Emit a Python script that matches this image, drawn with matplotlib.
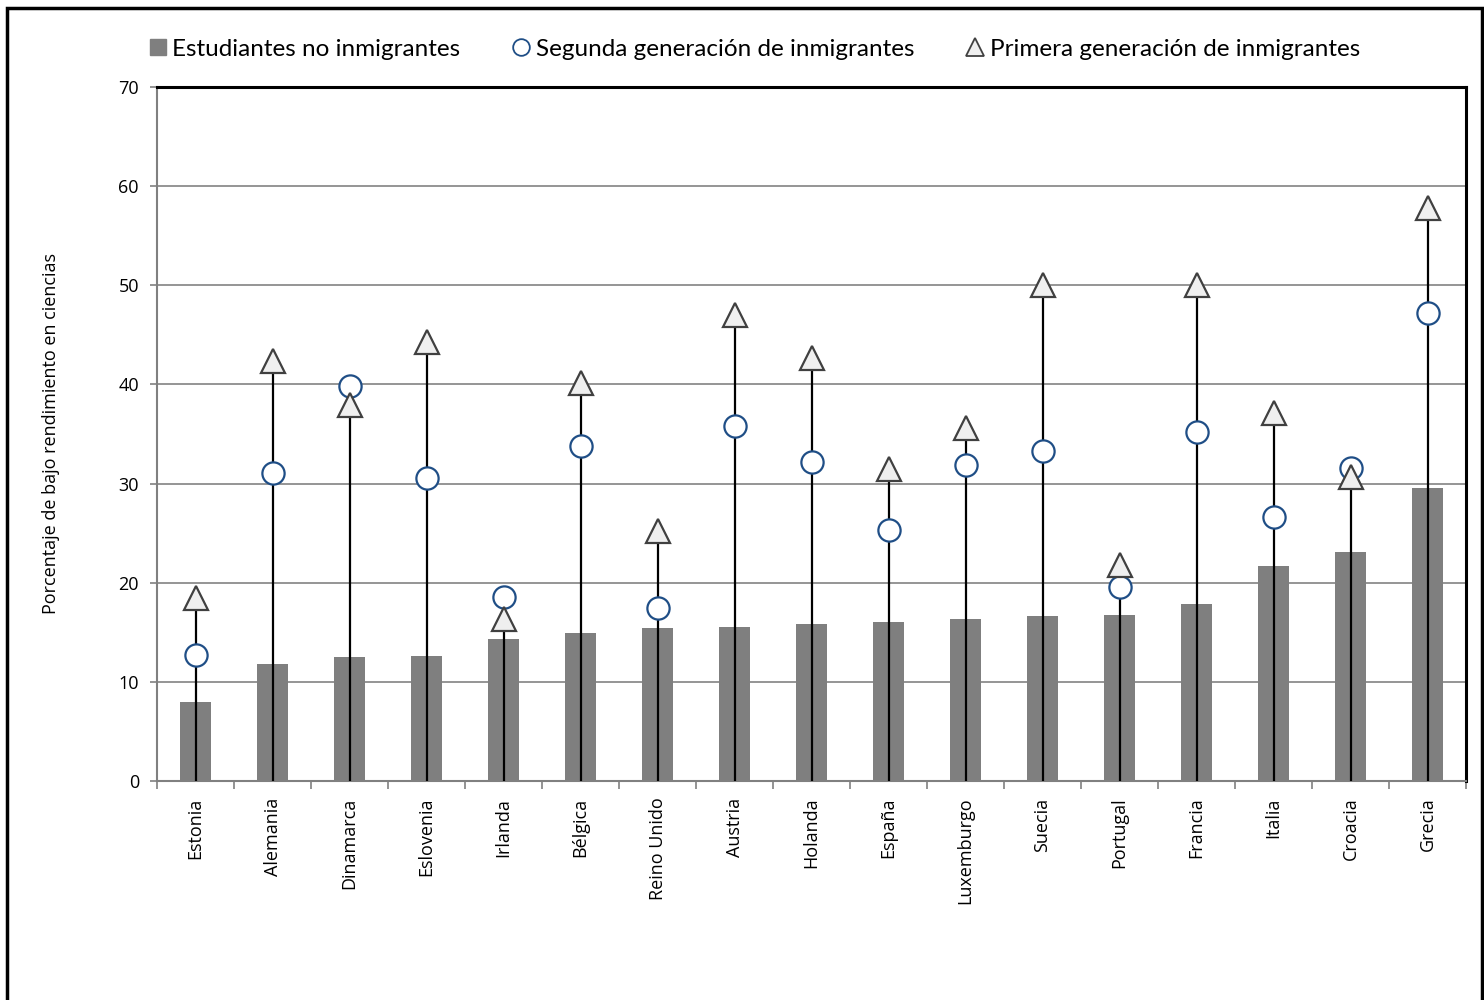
import numpy as np
import matplotlib
matplotlib.use("Agg")
import matplotlib.pyplot as plt
from matplotlib.lines import Line2D
from matplotlib.patches import Rectangle

paises = ["Estonia", "Alemania", "Dinamarca", "Eslovenia", "Irlanda", "Bélgica",
          "Reino Unido", "Austria", "Holanda", "España", "Luxemburgo", "Suecia",
          "Portugal", "Francia", "Italia", "Croacia", "Grecia"]
no_inmigrantes = [8.0, 11.8, 12.5, 12.6, 14.3, 14.9, 15.4, 15.5, 15.8, 16.0,
                  16.3, 16.6, 16.7, 17.9, 21.7, 23.1, 29.6]
segunda_gen = [12.7, 31.1, 39.8, 30.6, 18.6, 33.8, 17.5, 35.8, 32.2, 25.3,
               31.9, 33.3, 19.6, 35.2, 26.6, 31.6, 47.2]
primera_gen = [18.5, 42.4, 37.9, 44.3, 16.3, 40.1, 25.2, 47.0, 42.7, 31.5,
               35.6, 50.0, 21.8, 50.0, 37.1, 30.7, 57.8]

plt.rcParams['font.family'] = ['Open Sans', 'DejaVu Sans']

fig = plt.figure(figsize=(14.84, 10), dpi=100)
ax = fig.add_axes([0.1058, 0.219, 0.8821, 0.694])

x = np.arange(len(paises))
gris_barra = "#7f7f7f"
azul = "#1f4e86"

ax.bar(x, no_inmigrantes, width=0.4, color=gris_barra, zorder=2)
tope = np.maximum(segunda_gen, primera_gen)
ax.vlines(x, 0, tope, color="black", lw=1.6, zorder=3)
ax.plot(x, segunda_gen, linestyle="none", marker="o", markersize=16,
        markerfacecolor="white", markeredgecolor=azul, markeredgewidth=1.6, zorder=4)
ax.plot(x, primera_gen, linestyle="none", marker="^", markersize=17,
        markerfacecolor="#efefef", markeredgecolor="#404040", markeredgewidth=1.6, zorder=5)

ax.set_xlim(-0.5, len(paises) - 0.5)
ax.set_ylim(0, 70)
ax.set_yticks(np.arange(0, 71, 10))
ax.yaxis.grid(True, color="#8c8c8c", lw=1.3, zorder=0)
ax.set_axisbelow(True)

ax.set_xticks(x)
ax.set_xticklabels(paises, rotation=90, fontsize=13)
ax.set_xticks(np.arange(-0.5, len(paises), 1), minor=True)
ax.tick_params(axis="x", which="major", length=0, pad=12)
ax.tick_params(axis="x", which="minor", length=6, color="#808080", width=1.2)
ax.tick_params(axis="y", length=5, color="#808080", width=1.2, labelsize=13, pad=8)

for s in ["left", "bottom"]:
    ax.spines[s].set_color("#808080")
    ax.spines[s].set_linewidth(1.5)
for s in ["top", "right"]:
    ax.spines[s].set_color("black")
    ax.spines[s].set_linewidth(2.2)

ax.set_ylabel("Porcentaje de bajo rendimiento en ciencias", fontsize=13, labelpad=42)

handles = [
    Line2D([], [], linestyle="none", marker="s", markersize=11,
           markerfacecolor=gris_barra, markeredgecolor=gris_barra),
    Line2D([], [], linestyle="none", marker="o", markersize=12,
           markerfacecolor="white", markeredgecolor=azul, markeredgewidth=1.3),
    Line2D([], [], linestyle="none", marker="^", markersize=13,
           markerfacecolor="#efefef", markeredgecolor="#404040", markeredgewidth=1.3),
]
etiquetas = ["Estudiantes no inmigrantes", "Segunda generación de inmigrantes",
             "Primera generación de inmigrantes"]
fig.legend(handles, etiquetas, loc="center", bbox_to_anchor=(0.508, 0.951), ncol=3,
           frameon=False, handletextpad=0.2, columnspacing=2.1,
           handlelength=0.8, prop={"family": ["Lato", "DejaVu Sans"], "size": 17.5})

borde = Rectangle((0.005, -0.01), 0.9935, 1.002, transform=fig.transFigure,
                  fill=False, edgecolor="black", lw=2.5)
fig.patches.append(borde)

fig.savefig("out.png", dpi=100)
